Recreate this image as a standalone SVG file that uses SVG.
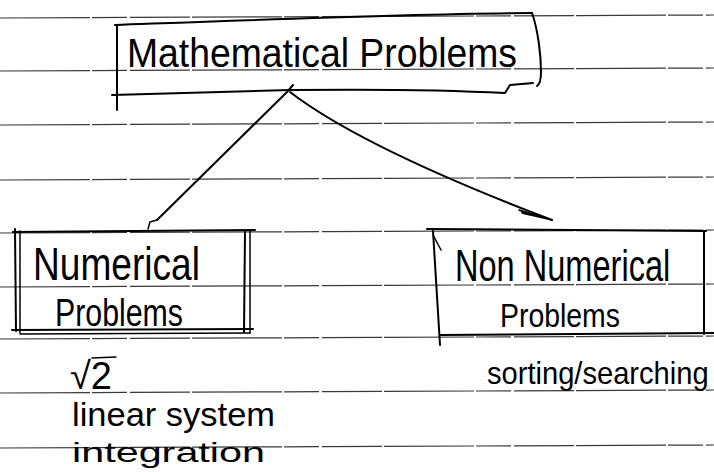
<svg xmlns="http://www.w3.org/2000/svg" width="714" height="472" viewBox="0 0 714 472">
  <defs>
    <style>
      .rule { stroke: #3a3a3a; stroke-width: 1.2; stroke-dasharray: 90 2 35 3 60 2; fill: none; }
      .ink { stroke: #000; stroke-width: 2; fill: none; stroke-linecap: round; stroke-linejoin: round; }
      .inkThin { stroke: #000; stroke-width: 1.5; fill: none; stroke-linecap: round; stroke-linejoin: round; }
      .txt { font-family: "Liberation Sans", Arial, sans-serif; fill: #000; }
    </style>
  </defs>
  <rect width="714" height="472" fill="#fff"/>

  <g id="rules">
    <line class="rule" x1="0" y1="18" x2="714" y2="15"/>
    <line class="rule" x1="0" y1="71" x2="714" y2="68"/>
    <line class="rule" x1="0" y1="125" x2="714" y2="122"/>
    <line class="rule" x1="0" y1="180" x2="714" y2="177"/>
    <line class="rule" x1="0" y1="233" x2="714" y2="230"/>
    <line class="rule" x1="0" y1="287" x2="714" y2="284"/>
    <line class="rule" x1="0" y1="339" x2="714" y2="336"/>
    <line class="rule" x1="0" y1="393" x2="714" y2="390"/>
    <line class="rule" x1="0" y1="448" x2="714" y2="445"/>
  </g>

  <g id="node-math">
    <path class="ink" d="M117 25 L117 110"/>
    <path class="ink" d="M115 25 C250 20 400 14 532 13"/>
    <path class="ink" stroke-width="2.6" d="M532 13 C538 30 541 55 541 72 C541 80 540 84 537 86"/>
    <path class="ink" d="M112 95 L290 90 C380 89 450 90 505 93 L510 85 L533 83"/>
    <text class="txt" x="127" y="67" font-size="40" textLength="390" lengthAdjust="spacingAndGlyphs">Mathematical Problems</text>
  </g>

  <g id="node-numerical">
    <path class="ink" d="M15 229 L16 331"/>
    <path class="inkThin" d="M20 231 L20 333"/>
    <path class="ink" d="M13 232 L255 230"/>
    <path class="ink" d="M245 232 L244 332"/>
    <path class="inkThin" d="M250 230 L250 333"/>
    <path class="ink" d="M12 330 L253 329"/>
    <path class="inkThin" d="M20 334 L250 333"/>
    <text class="txt" x="33" y="280" font-size="46" textLength="167" lengthAdjust="spacingAndGlyphs">Numerical</text>
    <text class="txt" x="55" y="326" font-size="38" textLength="128" lengthAdjust="spacingAndGlyphs">Problems</text>
  </g>

  <g id="node-nonnumerical">
    <path class="ink" d="M427 229 L706 231"/>
    <path class="ink" d="M433 231 L440 345"/>
    <path class="inkThin" d="M433 235 L441 250"/>
    <path class="ink" d="M704 231 L704 334"/>
    <path class="ink" d="M440 335 L714 333"/>
    <text class="txt" transform="translate(455 281) scale(0.74 1)" font-size="44">Non Numerical</text>
    <text class="txt" x="500" y="327" font-size="34" textLength="120" lengthAdjust="spacingAndGlyphs">Problems</text>
  </g>

  <g id="connectors">
    <path class="ink" d="M293 85 L287 92 L157 220"/>
    <path class="inkThin" d="M157 220 L150 222 L148 229"/>
    <path class="ink" d="M290 92 Q363 148 552 220"/>
    <path d="M552 220 L519 210 L530 215 L522 213 Z" fill="#000" stroke="#000" stroke-width="1.5" stroke-linejoin="round"/>
  </g>

  <g id="examples-numerical">
    <text class="txt" x="70" y="389" font-size="38">√2</text>
    <line class="inkThin" x1="92" y1="358" x2="116" y2="357"/>
    <text class="txt" x="72" y="426" font-size="34" textLength="203" lengthAdjust="spacingAndGlyphs">linear system</text>
    <text class="txt" x="72" y="462" font-size="28" textLength="193" lengthAdjust="spacingAndGlyphs">integration</text>
  </g>

  <g id="examples-nonnumerical">
    <text class="txt" transform="translate(487 384) scale(0.91 1)" font-size="32">sorting/searching</text>
  </g>
</svg>
